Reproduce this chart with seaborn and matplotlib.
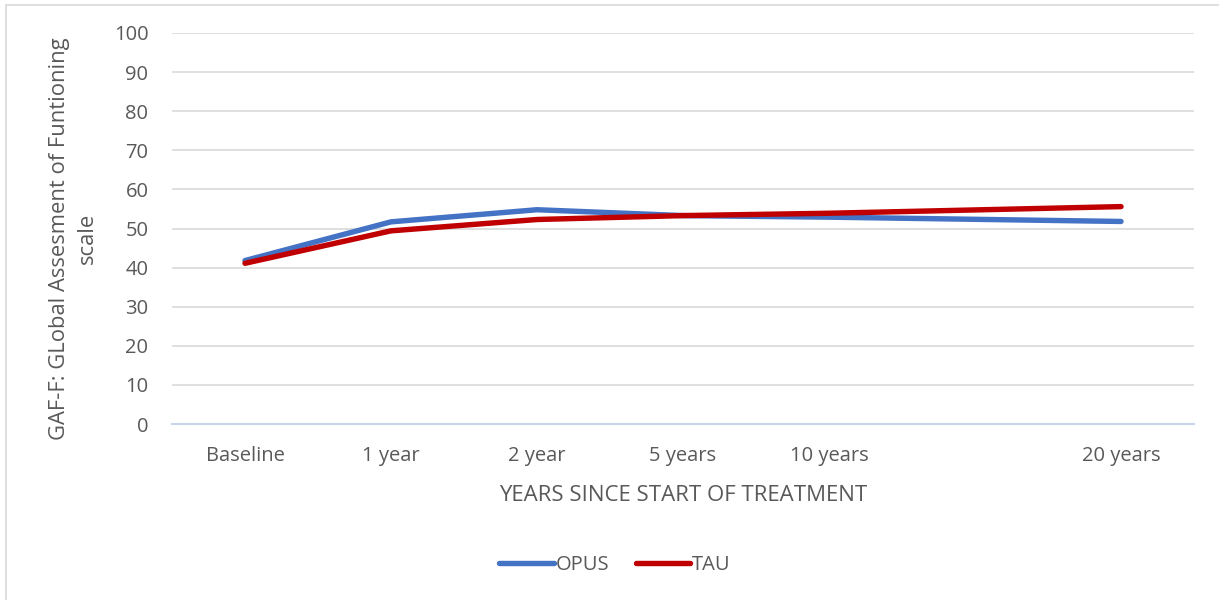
import seaborn as sns
import pandas as pd
import numpy as np
import matplotlib.pyplot as plt
from matplotlib.lines import Line2D

# Categories on the x axis (one empty slot between 10 and 20 years)
categories = ['Baseline', '1 year', '2 year', '5 years', '10 years', '', '20 years']

# GAF-F mean values
opus = [41.8, 51.7, 54.8, 53.3, 52.9, None, 51.8]
tau = [41.1, 49.4, 52.3, 53.3, 53.9, None, 55.6]

series_names = ['OPUS', 'TAU']
colors = {'OPUS': '#4472C4', 'TAU': '#C00000'}

rows = []
for name, vals in zip(series_names, [opus, tau]):
    for i, (cat, v) in enumerate(zip(categories, vals)):
        rows.append({'pos': i, 'category': cat, 'group': name, 'value': v})
df = pd.DataFrame(rows).dropna(subset=['value'])

sns.set_style('white')
plt.rcParams['font.family'] = ['Open Sans', 'DejaVu Sans']
text_col = '#595959'

fig = plt.figure(figsize=(12.19, 6.0), dpi=100)
ax = fig.add_axes([172/1219, 1-424/600, (1194-172)/1219, (424-33)/600])

sns.lineplot(data=df, x='pos', y='value', hue='group', palette=colors,
             linewidth=3.9, ax=ax, legend=False, sort=True,
             estimator=None, solid_capstyle='round')

ax.set_xlim(-0.5, len(categories) - 0.5)
ax.set_ylim(0, 100)
ax.set_yticks(np.arange(0, 101, 10))
ax.yaxis.grid(True, color='#D9D9D9', linewidth=1.2)
ax.set_axisbelow(True)

ax.set_xticks(range(len(categories)))
ax.set_xticklabels(categories)
ax.set_xticks(np.arange(-0.5, len(categories), 1), minor=True)
ax.tick_params(axis='x', which='major', length=0, pad=16, labelsize=14.5, labelcolor=text_col)
ax.tick_params(axis='x', which='minor', length=4, width=1, color='#C8D4EA', direction='out')
ax.tick_params(axis='y', length=0, pad=17, labelsize=14.5, labelcolor=text_col)

for s in ['top', 'right', 'left']:
    ax.spines[s].set_visible(False)
ax.spines['bottom'].set_color('#C8D4EA')
ax.spines['bottom'].set_linewidth(1.5)

ax.set_xlabel('YEARS SINCE START OF TREATMENT', fontsize=16, color=text_col)
ax.xaxis.set_label_coords(0.5, -0.155)
ax.set_ylabel('GAF-F: GLobal Assesment of Funtioning\nscale', fontsize=15.8,
              color=text_col, multialignment='center', linespacing=1.4)
ax.yaxis.set_label_coords(-0.073, 0.475)

handles = [Line2D([0], [0], color=colors[n], linewidth=3.9, solid_capstyle='round') for n in series_names]
leg = fig.legend(handles, series_names, loc='center', bbox_to_anchor=(615/1219, 1-565/600),
                 ncol=2, frameon=False, handlelength=2.7, handletextpad=0.1,
                 columnspacing=1.3, fontsize=14.5)
for t in leg.get_texts():
    t.set_color(text_col)

# chart border (top and left visible)
fig.add_artist(Line2D([6/1219, 6/1219], [0, 1-5/600], color='#D9D9D9', linewidth=1.2, transform=fig.transFigure))
fig.add_artist(Line2D([6/1219, 1], [1-5/600, 1-5/600], color='#D9D9D9', linewidth=1.2, transform=fig.transFigure))

fig.savefig('out.png', dpi=100)
